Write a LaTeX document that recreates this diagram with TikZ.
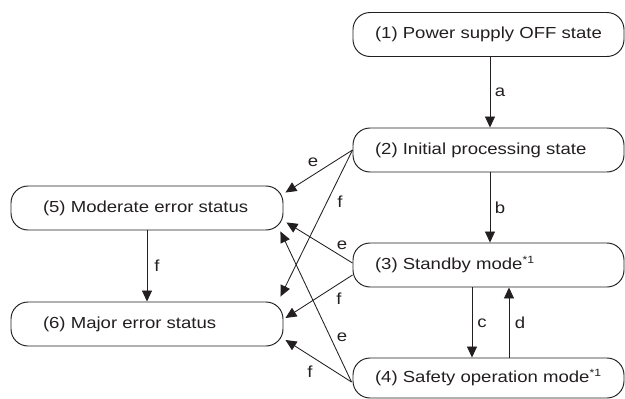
\documentclass[tikz,border=0pt]{standalone}
\usepackage{fontspec}
\setmainfont{Liberation Sans}[FakeStretch=1.16]
\usetikzlibrary{arrows.meta}
\definecolor{ink}{RGB}{35,31,32}
\newcommand{\supone}{\raisebox{6pt}{\fontsize{10.5}{10.5}\selectfont *1}}
\begin{document}
\begin{tikzpicture}[x=1pt,y=-1pt,
  font=\fontsize{16}{19}\selectfont, text=ink,
  statebox/.style={draw=ink, line width=0.95pt, rounded corners=17pt,
    minimum height=44pt, inner ysep=0pt, anchor=center},
  rbox/.style={statebox, inner xsep=22pt},
  lbox/.style={statebox, inner xsep=32pt},
  conn/.style={draw=ink, line width=0.85pt, -{Triangle[length=11pt,width=10pt]}},
  lab/.style={inner sep=0pt, anchor=center}]
\useasboundingbox (0,0) rectangle (625,399);
% states
\node[rbox] (s1) at (488.5,34.5) {\makebox[227pt][l]{(1) Power supply OFF state}};
\node[rbox] (s2) at (488.5,150) {\makebox[227pt][l]{(2) Initial processing state}};
\node[rbox] (s3) at (488.5,265) {\makebox[227pt][l]{(3) Standby mode\supone}};
\node[rbox, minimum height=40pt] (s4) at (488.5,378) {\makebox[227pt][l]{(4) Safety operation mode\supone}};
\node[lbox] (s5) at (147,208) {\makebox[208pt][l]{(5) Moderate error status}};
\node[lbox] (s6) at (147,324) {\makebox[208pt][l]{(6) Major error status}};
% vertical transitions
\draw[conn] ([xshift=1.5pt]s1.south) -- ([xshift=1.5pt]s2.north);
\draw[conn] ([xshift=1.5pt]s2.south) -- ([xshift=1.5pt]s3.north);
\draw[conn] ([xshift=-16.5pt]s3.south) -- ([xshift=-16.5pt]s4.north);
\draw[conn] ([xshift=20.5pt]s4.north) -- ([xshift=20.5pt]s3.south);
\draw[conn] (s5.south) -- (s6.north);
% diagonal transitions
\draw[conn] (s2.west) -- ([xshift=2pt,yshift=-7pt]s5.north east);
\draw[conn] (s2.west) -- ([xshift=-3pt,yshift=5pt]s6.north east);
\draw[conn] ([yshift=2pt]s3.west) -- ([xshift=3pt,yshift=8pt]s5.south east);
\draw[conn] ([yshift=-10pt]s3.west) -- ([xshift=2pt,yshift=6pt]s6.east);
\draw[conn] ([xshift=-1pt,yshift=-4pt]s4.west) -- ([xshift=-3pt,yshift=-1pt]s5.south east);
\draw[conn] ([xshift=-1pt,yshift=-4pt]s4.west) -- ([xshift=2pt,yshift=-16pt]s6.east);
% labels
\node[lab] (la) at (500,92) {a};
\node[lab] (lb) at (500,208) {b};
\node[lab] (lc) at (482,323) {c};
\node[lab] (ld) at (520,323) {d};
\node[lab] (lf56) at (157,266) {f};
\node[lab] (le25) at (313,162) {e};
\node[lab] (lf26) at (340,202) {f};
\node[lab] (le35) at (342,245) {e};
\node[lab] (lf36) at (339,299) {f};
\node[lab] (le45) at (342,337) {e};
\node[lab] (lf46) at (310,372) {f};
\end{tikzpicture}
\end{document}
